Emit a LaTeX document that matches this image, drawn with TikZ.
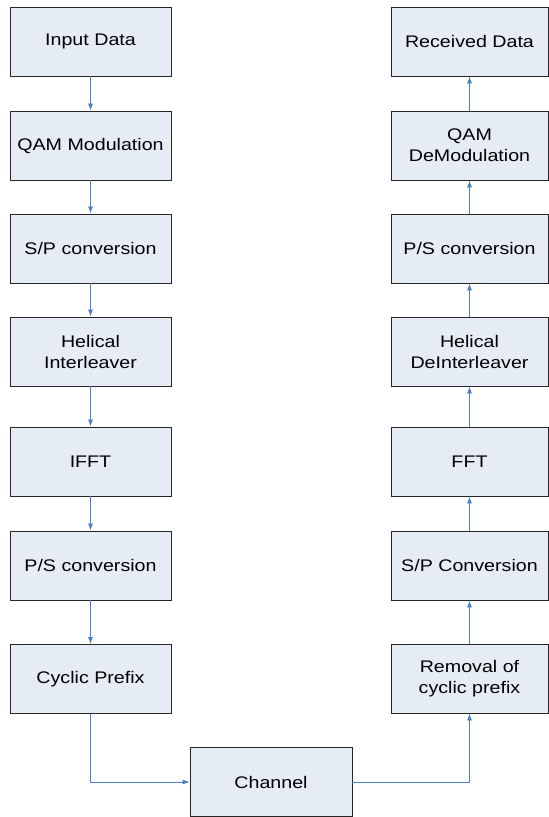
\documentclass[tikz,border=0pt]{standalone}
\usepackage{fontspec}
\setmainfont{Liberation Sans}[FakeStretch=1.17]
\usetikzlibrary{arrows.meta}
\definecolor{boxfill}{RGB}{230,236,246}
\definecolor{boxline}{RGB}{38,38,38}
\definecolor{flowblue}{RGB}{74,126,199}
\tikzset{
  block/.style={draw=boxline,line width=0.9pt,fill=boxfill,inner sep=0pt,
    minimum width=161pt,minimum height=69pt,align=center,
    font=\fontsize{16.8}{21}\selectfont},
  rblock/.style={block,minimum width=157pt},
  flow/.style={draw=flowblue,line width=0.8pt,-{Latex[length=7pt,width=5pt]}}
}
\begin{document}
\begin{tikzpicture}[x=1pt,y=-1pt]
  \useasboundingbox (0,0) rectangle (549,817);

  % transmitter side
  \node[block] (in)   at (90.5,41.5)  {Input Data};
  \node[block] (qam)  at (90.5,145.5) {QAM Modulation};
  \node[block] (sp)   at (90.5,248.5) {S/P conversion};
  \node[block] (hil)  at (90.5,351.5) {Helical\\Interleaver};
  \node[block] (ifft) at (90.5,461.5) {IFFT};
  \node[block] (ps)   at (90.5,565.5) {P/S conversion};
  \node[block] (cp)   at (90.5,679)   {Cyclic Prefix};

  % receiver side
  \node[rblock] (out)  at (469.5,41.5)  {Received Data};
  \node[rblock] (qamd) at (469.5,145.5) {QAM\\DeModulation};
  \node[rblock] (rps)  at (469.5,248.5) {P/S conversion};
  \node[rblock] (hdi)  at (469.5,351.5) {Helical\\DeInterleaver};
  \node[rblock] (fft)  at (469.5,461.5) {FFT};
  \node[rblock] (rsp)  at (469.5,565.5) {S/P Conversion};
  \node[rblock] (rcp)  at (469.5,678.5) {Removal of\\cyclic prefix};

  \node[block,minimum width=162pt] (ch) at (271,782) {Channel};

  \foreach \a/\b in {in/qam,qam/sp,sp/hil,hil/ifft,ifft/ps,ps/cp}
    \draw[flow] (\a) -- (\b);
  \foreach \a/\b in {rcp/rsp,rsp/fft,fft/hdi,hdi/rps,rps/qamd,qamd/out}
    \draw[flow] (\a) -- (\b);

  \draw[flow] (cp.south) |- (ch.west);
  \draw[flow] (ch.east) -| (rcp.south);
\end{tikzpicture}
\end{document}
